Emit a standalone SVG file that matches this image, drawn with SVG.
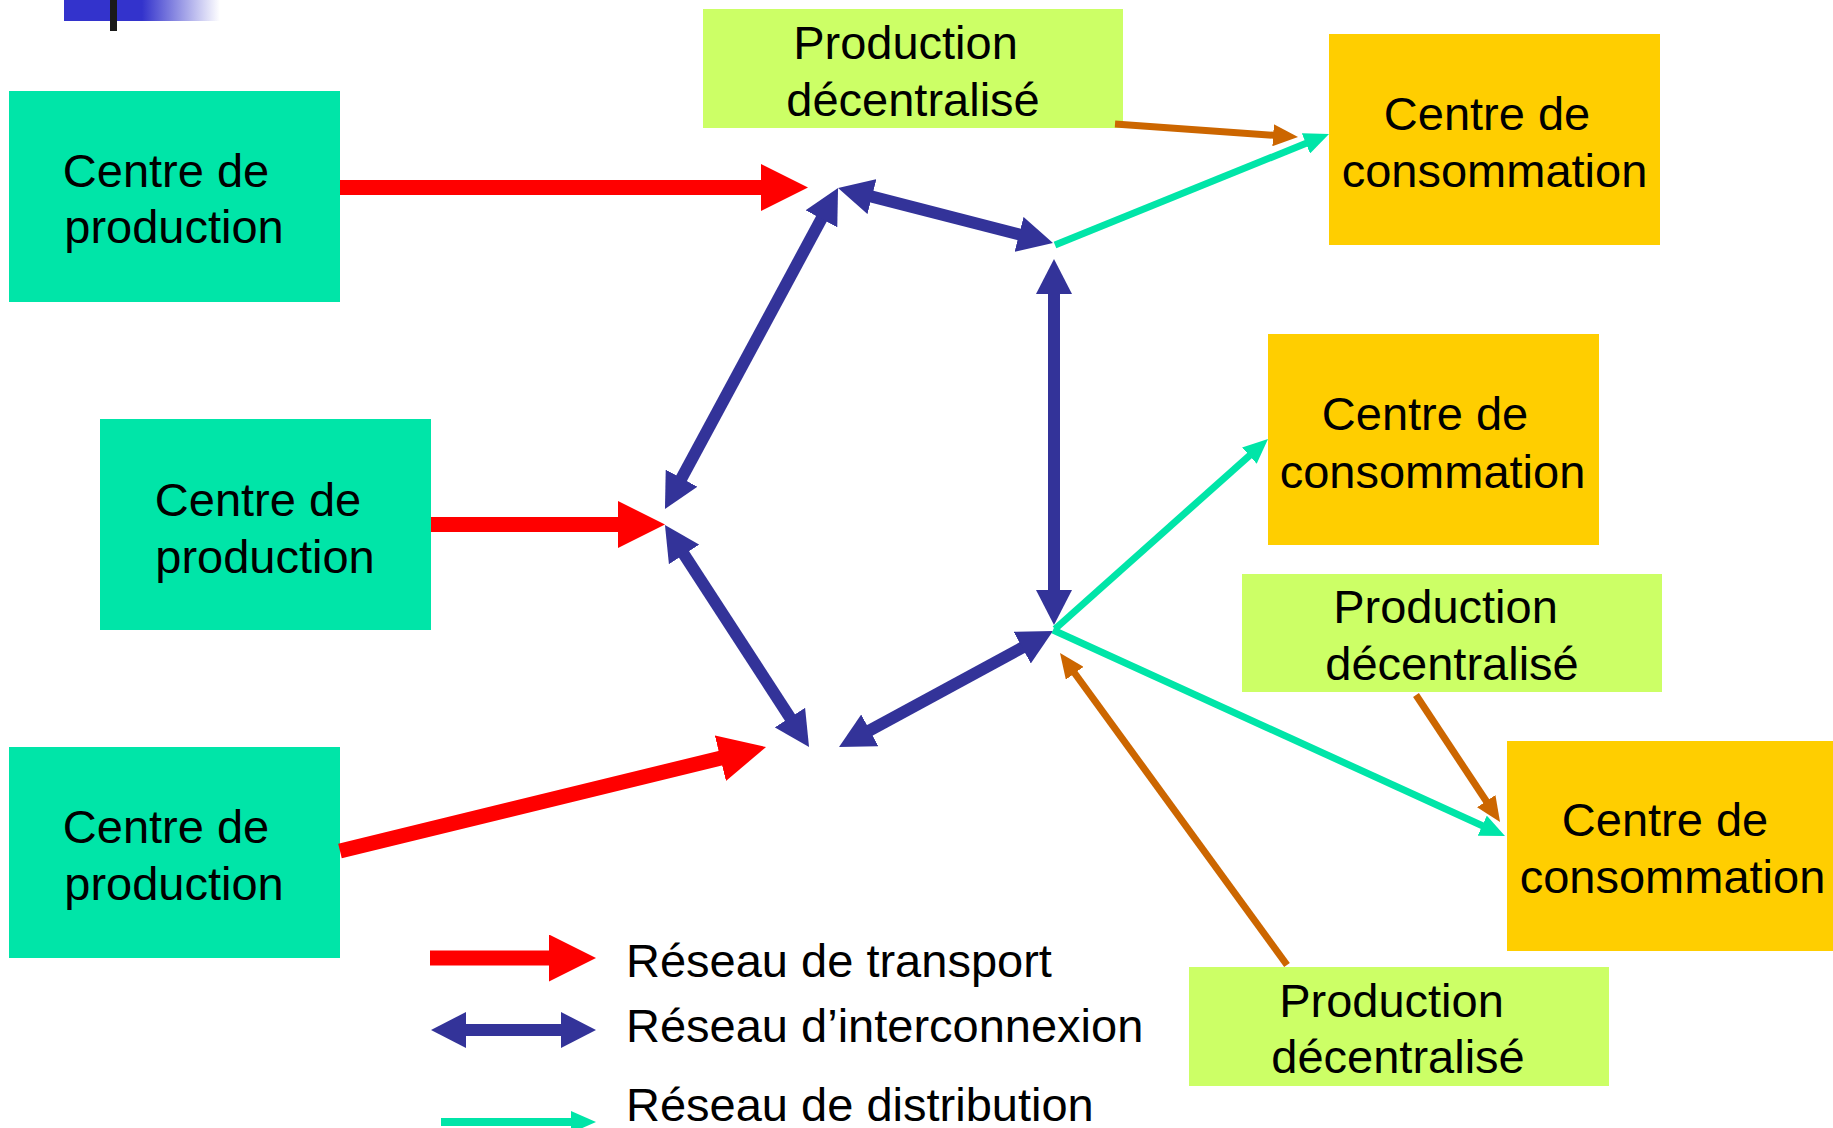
<svg xmlns="http://www.w3.org/2000/svg" width="1833" height="1128" viewBox="0 0 1833 1128">
<style>
.txt{font-family:"Liberation Sans",Arial,sans-serif;font-size:47px;fill:#000;text-anchor:middle}
.leg{font-family:"Liberation Sans",Arial,sans-serif;font-size:47px;fill:#000}
.prod{fill:#00E5A8}
.cons{fill:#FFCE00}
.dec{fill:#CCFF66}
.red{stroke:#FF0000;stroke-width:15;fill:none;marker-end:url(#redHead)}
.blue{stroke:#333399;stroke-width:12;fill:none;marker-start:url(#blueHead);marker-end:url(#blueHead)}
.green{stroke:#00E5A8;stroke-width:7;fill:none;marker-end:url(#greenHead)}
.orange{stroke:#CC6600;stroke-width:7;fill:none;marker-end:url(#orangeHead)}
</style>
<defs>
<linearGradient id="bar" x1="0" x2="1" y1="0" y2="0">
<stop offset="0" stop-color="#3333CC"/>
<stop offset="0.5" stop-color="#3333CC"/>
<stop offset="1" stop-color="#FFFFFF"/>
</linearGradient>
<marker id="redHead" markerUnits="userSpaceOnUse" viewBox="0 0 47 47" markerWidth="47" markerHeight="47" refX="5" refY="23.5" orient="auto-start-reverse">
<path d="M0,0 L47,23.5 L0,47 z" fill="#FF0000"/>
</marker>
<marker id="blueHead" markerUnits="userSpaceOnUse" viewBox="0 0 35 36" markerWidth="35" markerHeight="36" refX="5" refY="18" orient="auto-start-reverse">
<path d="M0,0 L35,18 L0,36 z" fill="#333399"/>
</marker>
<marker id="greenHead" markerUnits="userSpaceOnUse" viewBox="0 0 25 22" markerWidth="25" markerHeight="22" refX="5" refY="11" orient="auto-start-reverse">
<path d="M0,0 L25,11 L0,22 z" fill="#00E5A8"/>
</marker>
<marker id="orangeHead" markerUnits="userSpaceOnUse" viewBox="0 0 25 22" markerWidth="25" markerHeight="22" refX="5" refY="11" orient="auto-start-reverse">
<path d="M0,0 L25,11 L0,22 z" fill="#CC6600"/>
</marker>
</defs>
<rect width="1833" height="1128" fill="#FFFFFF"/>
<g id="decor">
<rect x="64" y="0" width="156" height="21" fill="url(#bar)"/>
<rect x="110" y="0" width="7" height="31" fill="#1A1A1A"/>
</g>
<g id="prod1">
<rect class="prod" x="9" y="91" width="331" height="211"/>
<text class="txt" x="166" y="187">Centre de</text>
<text class="txt" x="174" y="243">production</text>
</g>
<g id="prod2">
<rect class="prod" x="100" y="419" width="331" height="211"/>
<text class="txt" x="258" y="516">Centre de</text>
<text class="txt" x="265" y="573">production</text>
</g>
<g id="prod3">
<rect class="prod" x="9" y="747" width="331" height="211"/>
<text class="txt" x="166" y="843">Centre de</text>
<text class="txt" x="174" y="900">production</text>
</g>
<g id="dec1">
<rect class="dec" x="703" y="9" width="420" height="119"/>
<text class="txt" x="905.5" y="59">Production</text>
<text class="txt" x="913" y="116">décentralisé</text>
</g>
<g id="cons1">
<rect class="cons" x="1329" y="34" width="331" height="211"/>
<text class="txt" x="1487" y="130">Centre de</text>
<text class="txt" x="1494.5" y="187">consommation</text>
</g>
<g id="cons2">
<rect class="cons" x="1268" y="334" width="331" height="211"/>
<text class="txt" x="1425" y="430">Centre de</text>
<text class="txt" x="1432.5" y="488">consommation</text>
</g>
<g id="dec2">
<rect class="dec" x="1242" y="574" width="420" height="118"/>
<text class="txt" x="1445.5" y="623">Production</text>
<text class="txt" x="1452" y="680">décentralisé</text>
</g>
<g id="cons3">
<rect class="cons" x="1507" y="741" width="331" height="210"/>
<text class="txt" x="1665" y="836">Centre de</text>
<text class="txt" x="1672.5" y="893">consommation</text>
</g>
<g id="dec3">
<rect class="dec" x="1189" y="967" width="420" height="119"/>
<text class="txt" x="1391.5" y="1017">Production</text>
<text class="txt" x="1398" y="1073">décentralisé</text>
</g>
<g id="connectors">
<line class="red" x1="340" y1="187.5" x2="766" y2="187.5"/>
<line class="red" x1="431" y1="524.5" x2="623" y2="524.5"/>
<line class="red" x1="340" y1="851" x2="725.2" y2="757"/>
<line class="blue" x1="823.8" y1="214.4" x2="679.2" y2="482.6"/>
<line class="blue" x1="867.1" y1="195.4" x2="1023.9" y2="235.6"/>
<line class="blue" x1="1054" y1="289" x2="1054" y2="595"/>
<line class="blue" x1="681.3" y1="550.2" x2="792.7" y2="721.8"/>
<line class="blue" x1="865.4" y1="732.7" x2="1026.6" y2="645.3"/>
<line class="green" x1="1055" y1="245" x2="1310.5" y2="141.5"/>
<line class="green" x1="1055" y1="629" x2="1253.1" y2="452.3"/>
<line class="green" x1="1053" y1="630" x2="1486.8" y2="827.7"/>
<line class="orange" x1="1115" y1="124" x2="1278.1" y2="135.6"/>
<line class="orange" x1="1416" y1="695" x2="1489" y2="805.3"/>
<line class="orange" x1="1287" y1="965" x2="1071.8" y2="669.2"/>
</g>
<g id="legend">
<line class="red" x1="430" y1="958" x2="554" y2="958"/>
<line class="blue" x1="461" y1="1030" x2="566" y2="1030"/>
<line class="green" x1="441" y1="1122" x2="576" y2="1122" style="stroke-width:8"/>
<text class="leg" x="626" y="977">Réseau de transport</text>
<text class="leg" x="626" y="1042">Réseau d’interconnexion</text>
<text class="leg" x="626" y="1121">Réseau de distribution</text>
</g>
</svg>
